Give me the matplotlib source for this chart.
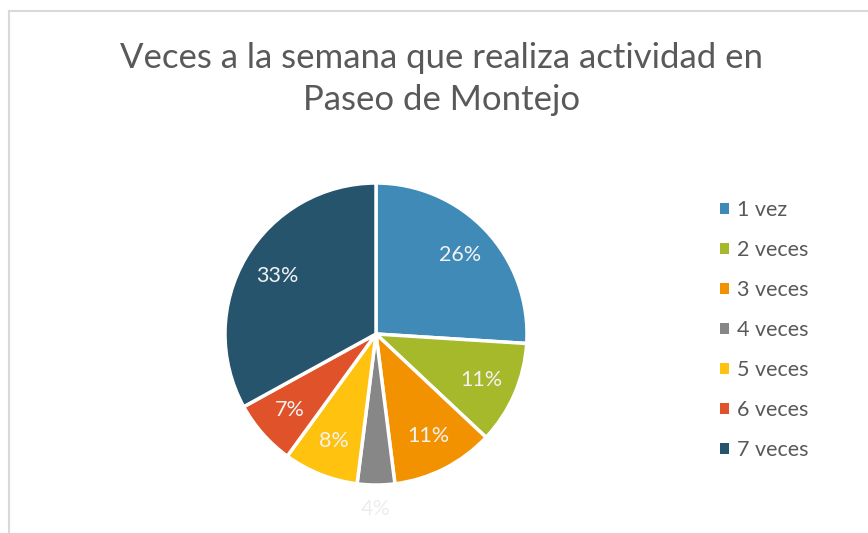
import matplotlib
matplotlib.use("Agg")
import matplotlib.pyplot as plt
import numpy as np
from matplotlib.lines import Line2D
from matplotlib.patches import Patch

plt.rcParams["font.family"] = ["Lato", "DejaVu Sans"]

# ── Data ──────────────────────────────────────────────────────────────────────
CATEGORIES = ["1 vez", "2 veces", "3 veces", "4 veces", "5 veces", "6 veces", "7 veces"]
PERCENTS = [26, 11, 11, 4, 8, 7, 33]
COLORS = ["#3F8AB6", "#A5B92B", "#F39200", "#878787", "#FFC20E", "#E0532A", "#27546D"]

TITLE = "Veces a la semana que realiza actividad en\nPaseo de Montejo"

W, H = 868, 533
fig = plt.figure(figsize=(W / 100, H / 100), dpi=100)
fig.patch.set_facecolor("white")

# chart frame (only top and left edges visible)
fig.add_artist(Line2D([9 / W, 9 / W], [0, 1 - 11 / H], color="#D9D9D9", lw=1.5))
fig.add_artist(Line2D([9 / W, 1], [1 - 11 / H, 1 - 11 / H], color="#D9D9D9", lw=1.5))

# pie axes: center (376, 334) px, radius 151 px
cx, cy, r = 376, 334, 151
ax = fig.add_axes([(cx - r) / W, (H - cy - r) / H, 2 * r / W, 2 * r / H])
wedges, _ = ax.pie(PERCENTS, colors=COLORS, startangle=90, counterclock=False,
                   wedgeprops=dict(edgecolor="white", linewidth=2.5))
ax.set_xlim(-1, 1)
ax.set_ylim(-1, 1)
ax.axis("off")

# percentage labels
angle = 90.0
total = sum(PERCENTS)
for p in PERCENTS:
    span = 360.0 * p / total
    mid = np.deg2rad(angle - span / 2)
    angle -= span
    if p < 5:
        d, col = 1.16, "#EDEDED"
    else:
        d, col = 0.76, "#F2F2F2"
    ax.text(d * np.cos(mid), d * np.sin(mid), f"{p}%", ha="center", va="center",
            fontsize=15.5, color=col)

fig.text(442 / W, 1 - 79 / H, TITLE, ha="center", va="center", fontsize=25,
         color="#595959", linespacing=1.36)

handles = [Patch(facecolor=c, edgecolor="none") for c in COLORS]
fig.legend(handles, CATEGORIES, loc="upper left", bbox_to_anchor=(701 / W, 1 - 181 / H),
           frameon=False, fontsize=15.5, labelcolor="#595959", handlelength=0.42,
           handleheight=0.42, handletextpad=0.33, labelspacing=0.93)

fig.savefig("out.png", dpi=100, facecolor="white")
